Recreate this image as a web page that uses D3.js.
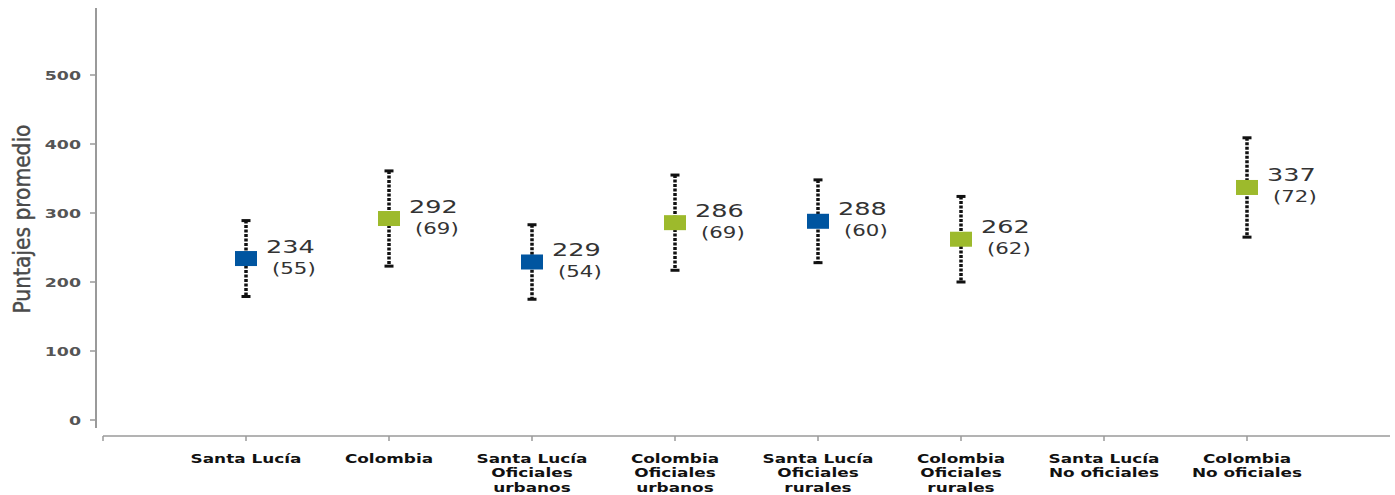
<!DOCTYPE html>
<html><head><meta charset="utf-8">
<script src="https://cdn.jsdelivr.net/npm/d3@7"></script>
<style>body{margin:0;background:#fff}</style>
</head><body>
<svg id="c" width="1395" height="495"></svg>
<script>
const categories = [
  ["Santa Lucía"], ["Colombia"],
  ["Santa Lucía","Oficiales","urbanos"], ["Colombia","Oficiales","urbanos"],
  ["Santa Lucía","Oficiales","rurales"], ["Colombia","Oficiales","rurales"],
  ["Santa Lucía","No oficiales"], ["Colombia","No oficiales"]
];
const groups = ["Santa Lucía","Colombia","Santa Lucía","Colombia","Santa Lucía","Colombia","Santa Lucía","Colombia"];
const means = [234, 292, 229, 286, 288, 262, null, 337];
const sds   = [55, 69, 54, 69, 60, 62, null, 72];
const yTicks = [0, 100, 200, 300, 400, 500];
const yTitle = "Puntajes promedio";
const groupColors = {"Santa Lucía": "#0055a0", "Colombia": "#9dba2c"};

const svg = d3.select("#c");
const keys = categories.map((c,i)=>i);
const x = d3.scalePoint().domain(keys).range([103, 1390]).padding(1);
const y = d3.scaleLinear().domain([0, 600]).range([420, 6]);

function wide(px, py, sx) {
  return svg.append("text").attr("transform", `translate(${px},${py}) scale(${sx},1)`);
}

// y axis
svg.append("line").attr("x1",96).attr("x2",96).attr("y1",y(600)+2).attr("y2",428)
  .attr("stroke","#9a9a9a").attr("stroke-width",2);
yTicks.forEach(t=>{
  svg.append("line").attr("x1",90).attr("x2",96).attr("y1",y(t)).attr("y2",y(t))
    .attr("stroke","#9a9a9a").attr("stroke-width",1.5);
  wide(81, y(t)+4.5, 1.45).attr("text-anchor","end")
    .attr("font-family","DejaVu Sans").attr("font-weight","bold").attr("font-size",12)
    .attr("fill","#555").text(t);
});
svg.append("text").attr("transform","translate(30,219) rotate(-90)")
  .attr("text-anchor","middle").attr("font-family","DejaVu Sans Condensed")
  .attr("font-size",22.5).attr("fill","#4a4a4a").attr("stroke","#4a4a4a")
  .attr("stroke-width",0.4).text(yTitle);

// x axis
svg.append("line").attr("x1",103).attr("x2",1390).attr("y1",436).attr("y2",436)
  .attr("stroke","#9a9a9a").attr("stroke-width",1.5);
svg.append("line").attr("x1",103).attr("x2",103).attr("y1",436).attr("y2",441)
  .attr("stroke","#9a9a9a").attr("stroke-width",1.5);
keys.forEach(k=>{
  svg.append("line").attr("x1",x(k)).attr("x2",x(k)).attr("y1",436).attr("y2",441)
    .attr("stroke","#9a9a9a").attr("stroke-width",1.5);
  const t = wide(x(k), 0, 1.3).attr("text-anchor","middle")
    .attr("font-family","DejaVu Sans").attr("font-weight","bold").attr("font-size",13)
    .attr("fill","#111");
  categories[k].forEach((line,j)=>{
    t.append("tspan").attr("x",0).attr("y",463+j*14.5).text(line);
  });
});

// error bars + points
keys.forEach(k=>{
  if (means[k]==null) return;
  const cx = x(k), m = means[k], s = sds[k];
  const top = y(m+s), bot = y(m-s);
  svg.append("line").attr("x1",cx).attr("x2",cx).attr("y1",top).attr("y2",bot)
    .attr("stroke","#111").attr("stroke-width",3.5).attr("stroke-dasharray","3,1.5");
  [top,bot].forEach(yy=>svg.append("line").attr("x1",cx-4.5).attr("x2",cx+4.5)
    .attr("y1",yy).attr("y2",yy).attr("stroke","#111").attr("stroke-width",3));
  svg.append("rect").attr("x",cx-11).attr("y",y(m)-7.5).attr("width",22).attr("height",15)
    .attr("fill",groupColors[groups[k]]);
  wide(cx+20, y(m)-6, 1.42)
    .attr("font-family","DejaVu Sans").attr("font-size",18)
    .attr("fill","#333").text(m);
  wide(cx+26, y(m)+15, 1.42)
    .attr("font-family","DejaVu Sans").attr("font-size",15)
    .attr("fill","#333").text("("+s+")");
});
</script>
</body></html>
